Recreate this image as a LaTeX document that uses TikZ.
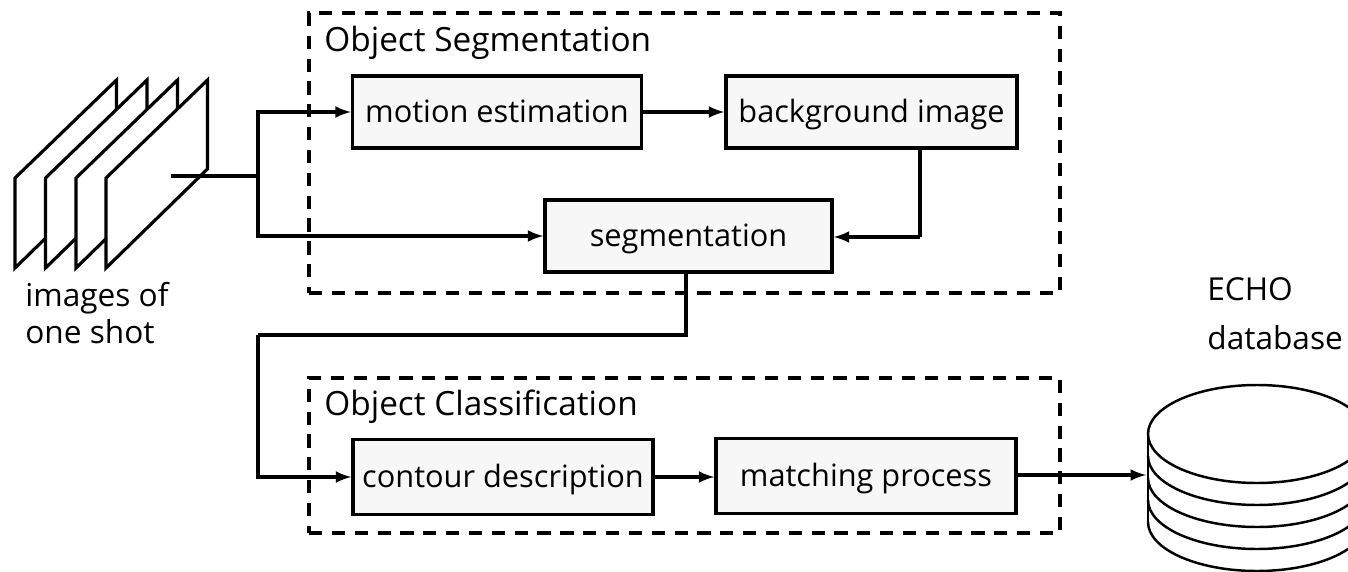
\documentclass[tikz,border=0pt]{standalone}
\usepackage{fontspec}
\setmainfont{Open Sans}
\usepackage{tikz}
\usetikzlibrary{arrows}
\tikzset{
    stagebox/.style={draw, line width=2pt, fill=gray!6, inner sep=0pt, minimum height=1.44cm, text height=12pt, text depth=0pt, font=\fontsize{17.5}{21}\selectfont},
    groupbox/.style={draw, line width=2pt, dash pattern=on 7.5pt off 5.5pt, inner sep=0pt},
    caption/.style={inner sep=0pt, anchor=base west, font=\fontsize{18}{22}\selectfont},
    heading/.style={caption, font=\fontsize{19}{23}\selectfont},
    link/.style={line width=2pt, -latex},
    wire/.style={line width=2pt},
    dbline/.style={line width=1.4pt, fill=white},
    sheet/.style={line width=1.8pt, fill=white}
}
\begin{document}
\begin{tikzpicture}[x=0.02cm, y=-0.02cm]
    \useasboundingbox(0, 0) rectangle (1348, 571);
    \clip(0, 0) rectangle (1348, 571);
    % stack of images
    \foreach \sx in {15, 45.5, 76, 106}
        \draw[sheet](\sx, 178)--(\sx+101.5, 80)--(\sx+101.5, 169)--(\sx, 268)--cycle;
    \node[caption](imagesa) at (25, 306){images of};
    \node[caption](imagesb) at (25, 343){one shot};
    % boxes
    \node[stagebox, minimum width=5.78cm](motion) at (497, 112){motion estimation};
    \node[stagebox, minimum width=5.82cm](background) at (871.5, 112){background image};
    \node[stagebox, minimum width=5.74cm](segmentation) at (688.5, 236){segmentation};
    \node[stagebox, minimum width=6.00cm, minimum height=1.5cm](contour) at (503, 477){contour description};
    \node[stagebox, minimum width=6.00cm, minimum height=1.5cm](matching) at (866, 476){matching process};
    % dashed groups
    \node[groupbox, minimum width=15.02cm, minimum height=5.6cm](groupseg) at (684.5, 153){};
    \node[groupbox, minimum width=15.02cm, minimum height=3.1cm](groupcls) at (684.5, 455.5){};
    \node[heading](segtitle) at (324, 52){Object Segmentation};
    \node[heading](clstitle) at (324, 415){Object Classification};
    % database
    \node[caption](echo) at (1207, 300){ECHO};
    \node[caption](database) at (1207, 349){database};
    \draw[dbline](1148, 434)--(1148, 524);
    \foreach \lay in {4, 3, 2, 1}
        \draw[dbline](1148, 434+22*\lay) arc[start angle=180, end angle=0, x radius=109, y radius=49];
    \draw[dbline](1257, 434) ellipse[x radius=109, y radius=49];
    \coordinate(dbin) at (1146, 475);
    % connectors
    \coordinate(stackout) at (171, 176);
    \coordinate(split) at (258, 176);
    \coordinate(bgdrop) at (920, 237);
    \coordinate(turna) at (686, 335);
    \coordinate(turnb) at (258, 335);
    \draw[wire](stackout)--(split);
    \draw[link](split)|-(motion.west);
    \draw[link](split)|-(segmentation.west);
    \draw[link](motion)--(background);
    \draw[wire](background.south -| bgdrop)--(bgdrop);
    \draw[link](bgdrop)--(segmentation.east |- bgdrop);
    \draw[wire](segmentation.south -| turna)--(turna)--(turnb);
    \draw[link](turnb)|-(contour.west);
    \draw[link](contour.east)--(matching.west |- contour.east);
    \draw[link](matching.east |- dbin)--(dbin);
\end{tikzpicture}
\end{document}
